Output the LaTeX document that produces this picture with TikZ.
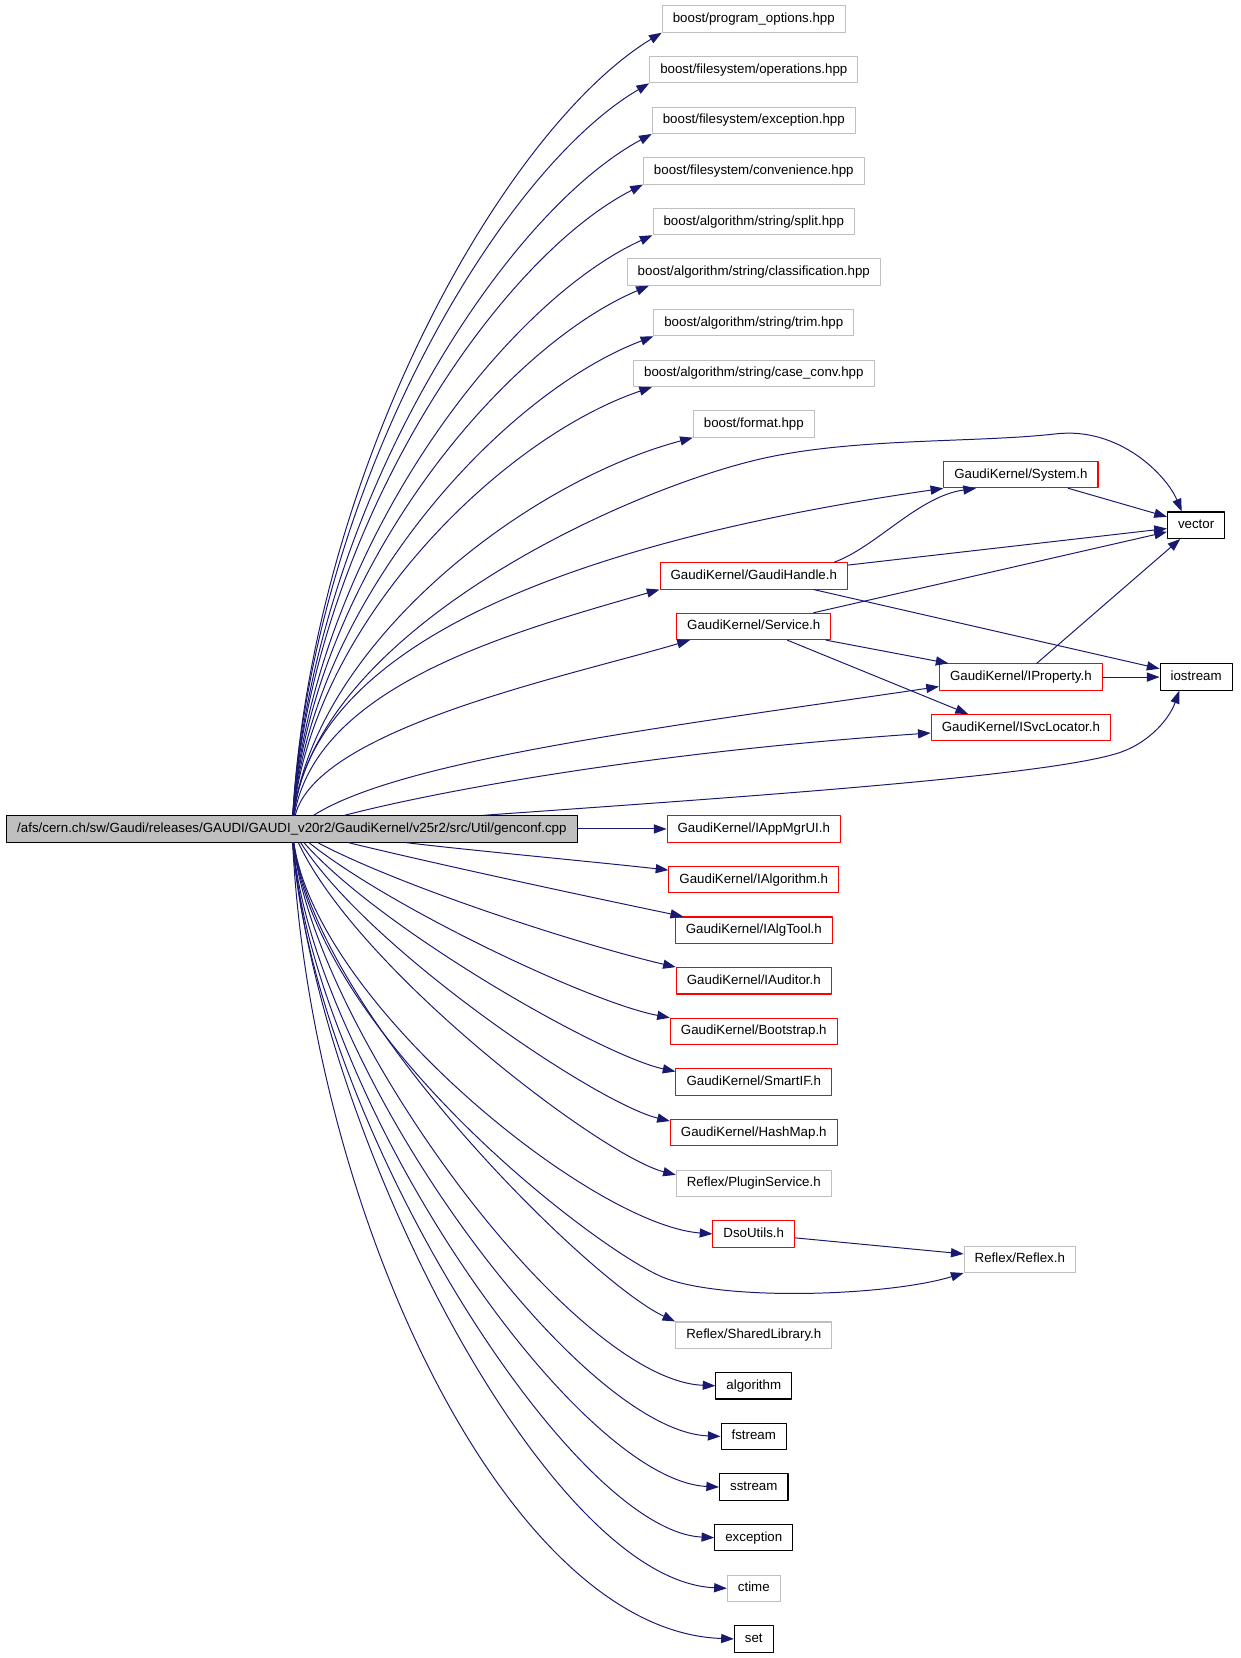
\documentclass[tikz,border=0pt]{standalone}
\usepackage{fontspec}
\setmainfont{Liberation Sans}
\usepackage{tikz}
\usetikzlibrary{arrows.meta}
\usetikzlibrary{calc}
\definecolor{edgeblue}{HTML}{191970}
\definecolor{framegray}{HTML}{BFBFBF}

\begin{document}
\begin{tikzpicture}[line cap=round,line join=round,x=0.75pt,y=-0.75pt,
  font=\fontsize{9.45}{11}\selectfont,
  file/.style={draw,rectangle,line width=0.75pt,minimum height=18.75pt,inner xsep=7.5pt,inner ysep=0pt,text height=7pt,text depth=2pt},
  sysfile/.style={file,draw=black},
  extfile/.style={file,draw=framegray},
  gkfile/.style={file,draw=red},
  dep/.style={draw=edgeblue,line width=0.7pt,-{Triangle[length=9pt,width=6.5pt]}}]
\useasboundingbox (0,0) rectangle (1174.6,1570.5);
\node[file,draw=black,fill=framegray] (main) at (276.5,785.2) {/afs/cern.ch/sw/Gaudi/releases/GAUDI/GAUDI\_v20r2/GaudiKernel/v25r2/src/Util/genconf.cpp};
\node[extfile] (po) at (714,18) {boost/program\_options.hpp};
\node[extfile] (fo) at (714,65.95) {boost/filesystem/operations.hpp};
\node[extfile] (fe) at (714,113.9) {boost/filesystem/exception.hpp};
\node[extfile] (fc) at (714,161.85) {boost/filesystem/convenience.hpp};
\node[extfile] (sp) at (714,209.8) {boost/algorithm/string/split.hpp};
\node[extfile] (cl) at (714,257.75) {boost/algorithm/string/classification.hpp};
\node[extfile] (tr) at (714,305.7) {boost/algorithm/string/trim.hpp};
\node[extfile] (cc) at (714,353.65) {boost/algorithm/string/case\_conv.hpp};
\node[extfile] (fm) at (714,401.6) {boost/format.hpp};
\node[gkfile] (sys) at (967,449.55) {GaudiKernel/System.h};
\node[sysfile] (vec) at (1133,497.5) {vector};
\node[gkfile] (gh) at (714,545.45) {GaudiKernel/GaudiHandle.h};
\node[gkfile] (svc) at (714,593.4) {GaudiKernel/Service.h};
\node[gkfile] (ip) at (967,641.35) {GaudiKernel/IProperty.h};
\node[sysfile] (ios) at (1133,641.35) {iostream};
\node[gkfile] (isl) at (967,689.3) {GaudiKernel/ISvcLocator.h};
\node[gkfile] (am) at (714,785.2) {GaudiKernel/IAppMgrUI.h};
\node[gkfile] (ia) at (714,833.15) {GaudiKernel/IAlgorithm.h};
\node[gkfile] (iat) at (714,881.1) {GaudiKernel/IAlgTool.h};
\node[gkfile] (iau) at (714,929.05) {GaudiKernel/IAuditor.h};
\node[gkfile] (bs) at (714,977) {GaudiKernel/Bootstrap.h};
\node[gkfile] (si) at (714,1024.95) {GaudiKernel/SmartIF.h};
\node[gkfile] (hm) at (714,1072.9) {GaudiKernel/HashMap.h};
\node[extfile] (ps) at (714,1120.85) {Reflex/PluginService.h};
\node[gkfile] (dso) at (714,1168.8) {DsoUtils.h};
\node[extfile] (rfx) at (966,1192.8) {Reflex/Reflex.h};
\node[extfile] (sl) at (714,1264.7) {Reflex/SharedLibrary.h};
\node[sysfile] (alg) at (714,1312.65) {algorithm};
\node[sysfile] (fst) at (714,1360.6) {fstream};
\node[sysfile] (sst) at (714,1408.55) {sstream};
\node[sysfile] (exc) at (714,1456.5) {exception};
\node[extfile] (ctm) at (714,1504.45) {ctime};
\node[sysfile] (stdset) at (714,1552.4) {set};
\draw[dep] (main) .. controls (297.5,439) and (480,120) .. (po.south west);
\draw[dep] (main) .. controls (296.9,460.3) and (473.4,161.8) .. (fo.south west);
\draw[dep] (main) .. controls (297,481.9) and (474.6,204) .. (fe.south west);
\draw[dep] (main) .. controls (296.5,503.4) and (469.4,246.1) .. (fc.south west);
\draw[dep] (main) .. controls (297,525) and (474.6,288.3) .. (sp.south west);
\draw[dep] (main) .. controls (296.8,546.6) and (472.8,330.6) .. ($(cl.south west)+(21,0)$);
\draw[dep] (main) .. controls (297.1,568.2) and (475.7,372.7) .. (tr.south west);
\draw[dep] (main) .. controls (297,589.8) and (474.6,415) .. ($(cc.south west)+(18,0)$);
\draw[dep] (main) .. controls (299.2,611.3) and (496,457) .. (fm.south west);
\draw[dep] (main) .. controls (300,600) and (580,470) .. (711,437) .. controls (801,414) and (920,420) .. (1000,411) .. controls (1060,404) and (1105,450) .. ($(vec.north west)+(14,0)$);
\draw[dep] (main) .. controls (300,590) and (600,505) .. (sys.south west);
\draw[dep] (main) .. controls (300,650) and (480,600) .. (gh.south west);
\draw[dep] (main) .. controls (300,690) and (540,640) .. ($(svc.south west)+(13,0)$);
\draw[dep] (main) .. controls (380,720) and (620,690) .. ($(ip.south west)+(0,-4)$);
\draw[dep] (main) .. controls (420,748) and (620,712) .. ($(isl.west)+(0,5)$);
\draw[dep] (main) .. controls (700,755) and (1000,735) .. (1063,712) .. controls (1090,702) and (1108,680) .. ($(ios.south)+(-16,0)$);
\draw[dep] (main) -- (am);
\draw[dep] (main) .. controls (450,806) and (560,816) .. ($(ia.north west)+(0,4)$);
\draw[dep] (main) .. controls (420,820) and (560,850) .. ($(iat.north west)+(8,0)$);
\draw[dep] (main) .. controls (380,840) and (550,895) .. (iau.north west);
\draw[dep] (main) .. controls (370,860) and (560,950) .. (bs.north west);
\draw[dep] (main) .. controls (360,880) and (570,1000) .. ($(si.north west)+(0,3)$);
\draw[dep] (main) .. controls (350,900) and (565,1045) .. ($(hm.north west)+(0,2)$);
\draw[dep] (main) .. controls (340,920) and (570,1095) .. ($(ps.north west)+(0,5)$);
\draw[dep] (main) .. controls (300,950) and (560,1160) .. (dso.west);
\draw[dep] (main) .. controls (300,980) and (560,1180) .. (626,1209) .. controls (680,1233) and (840,1228) .. (rfx.south west);
\draw[dep] (main) .. controls (300,960) and (560,1215) .. (sl.north west);
\draw[dep] (main) .. controls (297,975) and (541,1307) .. (alg.west);
\draw[dep] (main) .. controls (295,1010) and (546,1355) .. (fst.west);
\draw[dep] (main) .. controls (295,1040) and (545,1402) .. (sst.west);
\draw[dep] (main) .. controls (295,1060) and (540,1450) .. (exc.west);
\draw[dep] (main) .. controls (299,1066) and (516,1497) .. (ctm.west);
\draw[dep] (main) .. controls (295,1150) and (480,1545) .. (stdset.west);
\draw[dep] (sys) -- (vec);
\draw[dep] ($(gh.north east)+(-13,0)$) .. controls (830,518) and (870,470) .. ($(sys.south west)+(31,0)$);
\draw[dep] (gh) -- (vec);
\draw[dep] (gh) -- (ios);
\draw[dep] (svc) -- (vec);
\draw[dep] (svc) -- (ip);
\draw[dep] (svc) -- ($(isl.north)+(-50,0)$);
\draw[dep] (ip) -- (vec);
\draw[dep] (ip) -- (ios);
\draw[dep] (dso) -- (rfx);
\end{tikzpicture}
\end{document}
